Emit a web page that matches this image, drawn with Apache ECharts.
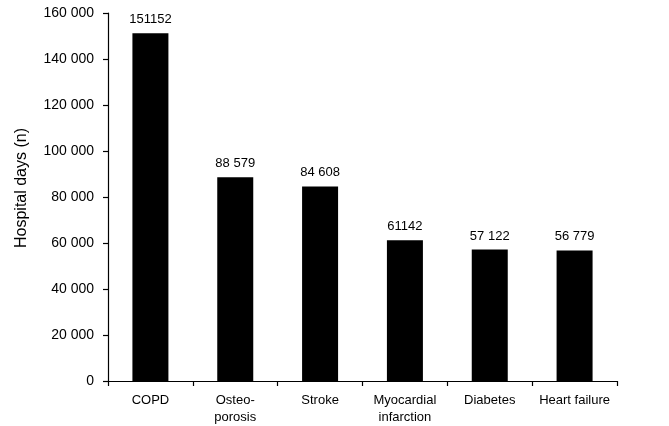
<!DOCTYPE html>
<html>
<head>
<meta charset="utf-8">
<script src="https://cdn.jsdelivr.net/npm/echarts@6/dist/echarts.min.js"></script>
<style>html,body{margin:0;padding:0;background:#fff;}#c{width:669px;height:426px;}</style>
</head>
<body>
<div id="c"></div>
<script>
const categories = ['COPD', 'Osteo-\nporosis', 'Stroke', 'Myocardial\ninfarction', 'Diabetes', 'Heart failure'];
const hospitalDays = [151152, 88579, 84608, 61142, 57122, 56779];
const valueLabels = ['151152', '88 579', '84 608', '61142', '57 122', '56 779'];
const yTicks = [0, 20000, 40000, 60000, 80000, 100000, 120000, 140000, 160000];

function fmt(v) {
  return String(v).replace(/\B(?=(\d{3})+(?!\d))/g, ' ');
}

const chart = echarts.init(document.getElementById('c'), null, {renderer: 'canvas'});
const font = 'Liberation Sans, Arial, Helvetica, sans-serif';
chart.setOption({
  animation: false,
  backgroundColor: '#fff',
  grid: {left: 108, right: 52, top: 13, bottom: 41, containLabel: false},
  xAxis: {
    type: 'category',
    data: categories,
    axisLine: {lineStyle: {color: '#000', width: 1.2}},
    axisTick: {show: true, length: 5, lineStyle: {color: '#000', width: 1.2}},
    axisLabel: {color: '#000', fontSize: 13, fontFamily: font, margin: 11, lineHeight: 17, interval: 0}
  },
  yAxis: {
    type: 'value',
    min: yTicks[0],
    max: yTicks[yTicks.length - 1],
    interval: yTicks[1] - yTicks[0],
    name: 'Hospital days (n)',
    nameLocation: 'middle',
    nameGap: 78,
    nameTextStyle: {color: '#000', fontSize: 16, fontFamily: font, padding: [0, 0, 0, 18]},
    axisLine: {show: true, lineStyle: {color: '#000', width: 1.2}},
    axisTick: {show: true, length: 5, lineStyle: {color: '#000', width: 1.2}},
    splitLine: {show: false},
    axisLabel: {color: '#000', fontSize: 14, fontFamily: font, margin: 14, formatter: v => fmt(v)}
  },
  series: [{
    type: 'bar',
    data: hospitalDays,
    barWidth: 36,
    itemStyle: {color: '#000'},
    label: {
      show: true,
      position: 'top',
      distance: 7,
      color: '#000',
      fontSize: 13,
      fontFamily: font,
      formatter: p => valueLabels[p.dataIndex]
    }
  }]
});
</script>
</body>
</html>
